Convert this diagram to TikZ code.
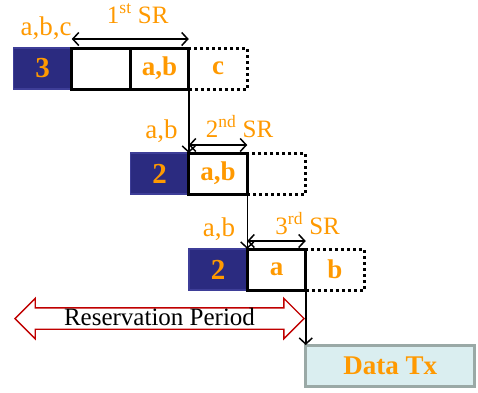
\documentclass[tikz,border=0pt]{standalone}
\usepackage{fontspec}
\setmainfont{Liberation Serif}
\usepackage{xcolor}
\usepackage{tikz}
\usetikzlibrary{arrows.meta,positioning,calc,shapes.arrows}
\definecolor{srnavy}{RGB}{43,43,128}
\definecolor{srline}{RGB}{62,62,152}
\definecolor{lblorange}{RGB}{255,153,0}
\definecolor{resred}{RGB}{192,0,0}
\definecolor{txfill}{RGB}{218,238,240}
\definecolor{txline}{RGB}{154,169,166}

\begin{document}
\begin{tikzpicture}[x=1pt,y=1pt,node distance=0pt,font=\fontsize{25}{28}\selectfont]
\tikzset{
  cnt/.style={fill=srnavy,draw=srline,line width=1.5pt,minimum width=58.5pt,minimum height=41pt,outer sep=0pt,inner sep=0pt,text=lblorange,font=\fontsize{29}{32}\selectfont\bfseries},
  slot/.style={draw,line width=3pt,minimum width=58.5pt,minimum height=41pt,outer sep=0pt,inner sep=0pt,text=lblorange,font=\fontsize{27}{30}\selectfont\bfseries},
  spare/.style={slot,dash pattern=on 3pt off 3pt},
  txbox/.style={fill=txfill,draw=txline,line width=3pt,minimum width=169pt,minimum height=41pt,outer sep=0pt,inner sep=0pt,text=lblorange,font=\fontsize{27}{30}\selectfont\bfseries},
  lbl/.style={text=lblorange,inner sep=0pt,anchor=base west},
  set/.style={text=lblorange,inner sep=0pt,anchor=base east,font=\fontsize{27}{30}\selectfont},
  span/.style={{Straight Barb[length=6pt,width=13pt]}-{Straight Barb[length=6pt,width=13pt]},line width=1.5pt},
  link/.style={-{Straight Barb[length=6pt,width=13pt]},line width=1.5pt}
}
\useasboundingbox (0,0) rectangle (478,-392);
% 1st SR
\node(n1)[cnt] at (42.5,-68.5){3};
\node(s1a)[slot,right=of n1]{};
\node(s1b)[slot,right=of s1a]{a,b};
\node(d1)[spare,right=of s1b]{c};
\node(r1)[lbl] at ($(s1a.north west)+(35,25)$){1\textsuperscript{st} SR};
\node(c1)[set] at ($(s1a.north west)+(0,13)$){a,b,c};
\draw[span]([yshift=9pt]s1a.north west)--([yshift=9pt]s1b.north east);
% 2nd SR
\node(n2)[cnt,below=64pt of s1b]{2};
\node(s2)[slot,right=of n2]{a,b};
\node(d2)[spare,right=of s2]{};
\node(r2)[lbl] at ($(s2.north west)+(17,16)$){2\textsuperscript{nd} SR};
\node(c2)[set] at ($(s2.north west)+(-11,15)$){a,b};
\draw[span]([yshift=8pt]s2.north west)--([yshift=8pt]s2.north east);
% 3rd SR
\node(n3)[cnt,below=55pt of s2]{2};
\node(s3)[slot,right=of n3]{a};
\node(d3)[spare,right=of s3]{b};
\node(r3)[lbl] at ($(s3.north west)+(28,15)$){3\textsuperscript{rd} SR};
\node(c3)[set] at ($(s3.north west)+(-12,13)$){a,b};
\draw[span]([yshift=8pt]s3.north west)--([yshift=8pt]s3.north east);
% data phase
\node(tx)[txbox,below=55pt of d3.south west,anchor=north west]{Data Tx};
\node(res)[double arrow,draw=resred,fill=white,line width=1.4pt,minimum height=289pt,double arrow head extend=9.5pt,inner xsep=0pt,inner ysep=0pt,text height=17pt,text depth=3pt] at (159.5,-318.5){Reservation Period};
\draw[link](s1b.south east)--(s2.north west);
\draw[link](s2.south east)--(s3.north west);
\draw[link](s3.south east)--(tx.north west);
\end{tikzpicture}
\end{document}
